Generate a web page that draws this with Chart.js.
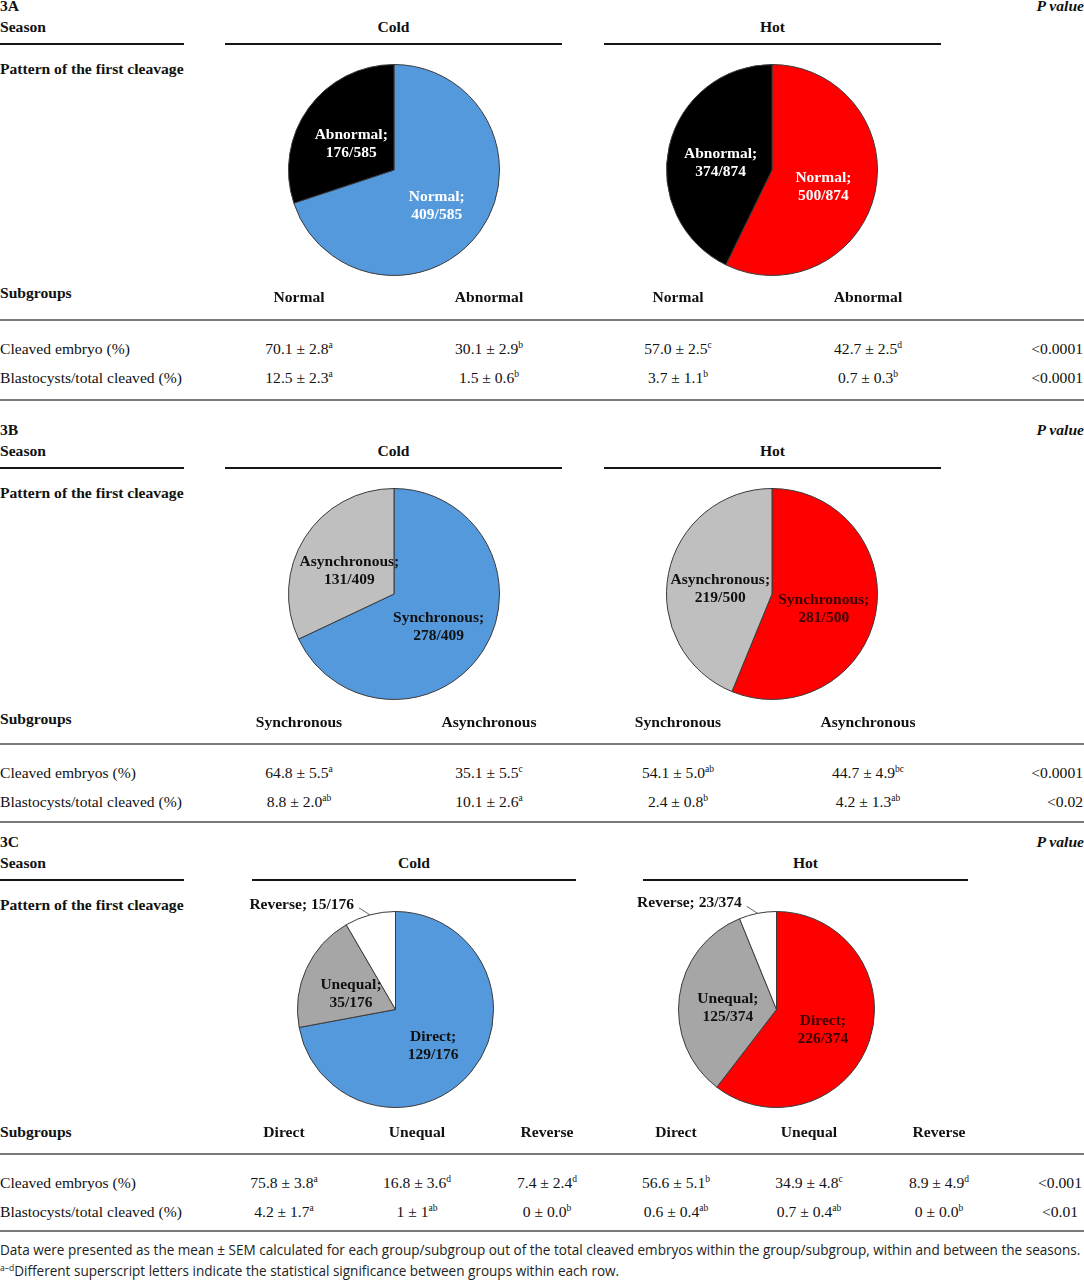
<!DOCTYPE html>
<html><head><meta charset="utf-8">
<script src="https://cdn.jsdelivr.net/npm/chart.js@4.4.0/dist/chart.umd.min.js"></script>
<style>
html,body{margin:0;padding:0;background:#fff;}
#page{position:relative;width:1084px;height:1280px;overflow:hidden;font-family:"Liberation Serif","Times New Roman",serif;color:#111;}
.t{position:absolute;white-space:nowrap;line-height:1;font-size:15.6px;}
.b{font-weight:bold;}
.i{font-style:italic;}
.c{transform:translate(-50%,-50%);}
.l{transform:translate(0,-50%);}
.r{transform:translate(-100%,-50%);}
.t sup{font-size:9.5px;position:relative;top:-6px;vertical-align:baseline;line-height:0;}
.hl{position:absolute;height:2px;background:#151515;}
.gl{position:absolute;left:0;width:1084px;height:1.5px;background:#7a7a7a;}
canvas.pie{position:absolute;}
.foot{position:absolute;left:0;white-space:nowrap;font-family:"Open Sans","Noto Sans",sans-serif;color:#222;line-height:1;transform:translate(0,-50%);font-size:13px;}
.foot sup{font-size:8.5px;position:relative;top:-5px;vertical-align:baseline;line-height:0;}
</style></head><body><div id="page"></div>
<script>
// ---------- data ----------
const seasons = ['Cold', 'Hot'];

const pieCats3A = ['Normal', 'Abnormal'];
const cold3A = [409, 176];
const hot3A = [500, 374];
const denom3A = [585, 874];

const pieCats3B = ['Synchronous', 'Asynchronous'];
const cold3B = [278, 131];
const hot3B = [281, 219];
const denom3B = [409, 500];

const pieCats3C = ['Direct', 'Unequal', 'Reverse'];
const cold3C = [129, 35, 15];
const hot3C = [226, 125, 23];
const denom3C = [176, 374];

const rowLabels3A = ['Cleaved embryo (%)', 'Blastocysts/total cleaved (%)'];
const cleavedMean3A = ['70.1', '30.1', '57.0', '42.7'];
const cleavedSem3A = ['2.8', '2.9', '2.5', '2.5'];
const cleavedSig3A = ['a', 'b', 'c', 'd'];
const blastMean3A = ['12.5', '1.5', '3.7', '0.7'];
const blastSem3A = ['2.3', '0.6', '1.1', '0.3'];
const blastSig3A = ['a', 'b', 'b', 'b'];
const pValues3A = ['<0.0001', '<0.0001'];

const rowLabels3B = ['Cleaved embryos (%)', 'Blastocysts/total cleaved (%)'];
const cleavedMean3B = ['64.8', '35.1', '54.1', '44.7'];
const cleavedSem3B = ['5.5', '5.5', '5.0', '4.9'];
const cleavedSig3B = ['a', 'c', 'ab', 'bc'];
const blastMean3B = ['8.8', '10.1', '2.4', '4.2'];
const blastSem3B = ['2.0', '2.6', '0.8', '1.3'];
const blastSig3B = ['ab', 'a', 'b', 'ab'];
const pValues3B = ['<0.0001', '<0.02'];

const rowLabels3C = ['Cleaved embryos (%)', 'Blastocysts/total cleaved (%)'];
const cleavedMean3C = ['75.8', '16.8', '7.4', '56.6', '34.9', '8.9'];
const cleavedSem3C = ['3.8', '3.6', '2.4', '5.1', '4.8', '4.9'];
const cleavedSig3C = ['a', 'd', 'd', 'b', 'c', 'd'];
const blastMean3C = ['4.2', '1', '0', '0.6', '0.7', '0'];
const blastSem3C = ['1.7', '1', '0.0', '0.4', '0.4', '0.0'];
const blastSig3C = ['a', 'ab', 'b', 'ab', 'ab', 'b'];
const pValues3C = ['<0.001', '<0.01'];

const footnote1 = 'Data were presented as the mean \u00B1 SEM calculated for each group/subgroup out of the total cleaved embryos within the group/subgroup, within and between the seasons.';
const footnote2Sup = 'a\u2013d';
const footnote2 = 'Different superscript letters indicate the statistical significance between groups within each row.';

// ---------- styling ----------
const BLUE = '#5599dd', RED = '#ff0000', BLACK = '#000000', LGRAY = '#bfbfbf', DGRAY = '#a6a6a6', WHITE = '#ffffff';

const page = document.getElementById('page');
function addText(html, x, y, cls) {
  const d = document.createElement('div');
  d.className = 't ' + cls;
  d.style.left = x + 'px';
  d.style.top = y + 'px';
  d.innerHTML = html;
  page.appendChild(d);
  return d;
}
function addLine(cls, x1, x2, y) {
  const d = document.createElement('div');
  d.className = cls;
  if (cls === 'hl') { d.style.left = x1 + 'px'; d.style.width = (x2 - x1) + 'px'; }
  d.style.top = (y - 1) + 'px';
  page.appendChild(d);
}
function esc(s) { return s.replace(/&/g, '&amp;').replace(/</g, '&lt;'); }

const labelPlugin = {
  id: 'sliceLabels',
  afterDatasetsDraw(chart, args, opts) {
    const ctx = chart.ctx;
    const meta = chart.getDatasetMeta(0);
    const ds = chart.data.datasets[0];
    ctx.save();
    ctx.font = 'bold 15.5px "Liberation Serif", "Times New Roman", serif';
    ctx.textBaseline = 'middle';
    meta.data.forEach((arc, i) => {
      const p = arc.getProps(['x', 'y', 'startAngle', 'endAngle', 'outerRadius'], true);
      const mid = (p.startAngle + p.endAngle) / 2;
      const name = chart.data.labels[i] + ';';
      const frac = ds.data[i] + '/' + opts.denom;
      if (opts.outside && opts.outside.indexOf(i) >= 0) {
        const ex = p.x + Math.cos(mid) * p.outerRadius;
        const ey = p.y + Math.sin(mid) * p.outerRadius;
        const sx = ex - 11, sy = ey - 7;
        ctx.strokeStyle = '#555';
        ctx.lineWidth = 0.9;
        ctx.beginPath(); ctx.moveTo(sx, sy); ctx.lineTo(ex, ey); ctx.stroke();
        ctx.fillStyle = '#111';
        ctx.textAlign = 'right';
        ctx.fillText(name + ' ' + frac, sx - 5, sy - 3);
      } else {
        const rr = p.outerRadius * 0.5;
        const cx = p.x + Math.cos(mid) * rr;
        const cy = p.y + Math.sin(mid) * rr + 5;
        ctx.fillStyle = opts.colors[i];
        ctx.textAlign = 'center';
        ctx.fillText(name, cx, cy - 9);
        ctx.fillText(frac, cx, cy + 9);
      }
    });
    ctx.restore();
  }
};

function makePie(cx, cy, size, cats, vals, colors, textColors, denom, outside) {
  const padX = 80, padY = 34;
  const W = size + 2 * padX, H = size + 2 * padY;
  const cv = document.createElement('canvas');
  cv.className = 'pie';
  cv.width = W; cv.height = H;
  cv.style.width = W + 'px'; cv.style.height = H + 'px';
  cv.style.left = (cx - W / 2) + 'px';
  cv.style.top = (cy - H / 2) + 'px';
  page.appendChild(cv);
  new Chart(cv, {
    type: 'pie',
    data: { labels: cats, datasets: [{ data: vals, backgroundColor: colors, borderColor: '#3a3a3a', borderWidth: 1, hoverBorderWidth: 1, offset: 0, hoverOffset: 0 }] },
    options: {
      responsive: false, animation: false, events: [],
      layout: { padding: { left: padX, right: padX, top: padY, bottom: padY } },
      plugins: { legend: { display: false }, tooltip: { enabled: false },
        sliceLabels: { colors: textColors, denom: denom, outside: outside } }
    },
    plugins: [labelPlugin]
  });
}

function valueHtml(mean, sem, sig) {
  return mean + ' \u00B1 ' + sem + '<sup>' + sig + '</sup>';
}

function buildSection(s) {
  addText(s.tag, 0, s.yTag, 'b l');
  addText('P value', 1084, s.yTag, 'b i r');
  addText('Season', 0, s.ySeason, 'b l');
  addText(seasons[0], (s.coldLine[0] + s.coldLine[1]) / 2, s.ySeason, 'b c');
  addText(seasons[1], (s.hotLine[0] + s.hotLine[1]) / 2, s.ySeason, 'b c');
  addLine('hl', 0, 184, s.yLine);
  addLine('hl', s.coldLine[0], s.coldLine[1], s.yLine);
  addLine('hl', s.hotLine[0], s.hotLine[1], s.yLine);
  addText('Pattern of the first cleavage', 0, s.yPattern, 'b l');

  makePie(s.pieX[0], s.pieY, s.pieSize, s.cats, s.cold, s.coldColors, s.coldText, s.denom[0], s.outside);
  makePie(s.pieX[1], s.pieY, s.pieSize, s.cats, s.hot, s.hotColors, s.hotText, s.denom[1], s.outside);

  addText('Subgroups', 0, s.ySub, 'b l');
  const subs = s.cats.concat(s.cats);
  subs.forEach((c, i) => addText(c, s.cols[i], s.ySubLbl, 'b c'));
  addLine('gl', 0, 1084, s.yGl1);

  const rows = [
    [s.rowLabels[0], s.cMean, s.cSem, s.cSig, s.pv[0], s.yRow1],
    [s.rowLabels[1], s.bMean, s.bSem, s.bSig, s.pv[1], s.yRow2]
  ];
  rows.forEach(r => {
    addText(r[0], 0, r[5], 'l');
    r[1].forEach((m, i) => addText(valueHtml(m, r[2][i], r[3][i]), s.cols[i], r[5], 'c'));
    if (s.pAlign === 'r') addText(esc(r[4]), 1083, r[5], 'r');
    else addText(esc(r[4]), s.pX, r[5], 'c');
  });
  addLine('gl', 0, 1084, s.yGl2);
}

buildSection({
  tag: '3A', yTag: 6, ySeason: 27, yLine: 44, yPattern: 69,
  coldLine: [225, 562], hotLine: [604, 941],
  pieX: [393.5, 772], pieY: 169.5, pieSize: 212,
  cats: pieCats3A, cold: cold3A, hot: hot3A, denom: denom3A,
  coldColors: [BLUE, BLACK], hotColors: [RED, BLACK],
  coldText: ['#fff', '#fff'], hotText: ['#fff', '#fff'], outside: [],
  ySub: 293, ySubLbl: 297, yGl1: 320, yRow1: 349, yRow2: 378, yGl2: 400,
  cols: [299, 489, 678, 868], rowLabels: rowLabels3A,
  cMean: cleavedMean3A, cSem: cleavedSem3A, cSig: cleavedSig3A,
  bMean: blastMean3A, bSem: blastSem3A, bSig: blastSig3A, pv: pValues3A, pAlign: 'r'
});

buildSection({
  tag: '3B', yTag: 430, ySeason: 451, yLine: 468, yPattern: 493,
  coldLine: [225, 562], hotLine: [604, 941],
  pieX: [393.5, 772], pieY: 593.5, pieSize: 212,
  cats: pieCats3B, cold: cold3B, hot: hot3B, denom: denom3B,
  coldColors: [BLUE, LGRAY], hotColors: [RED, LGRAY],
  coldText: ['#111', '#111'], hotText: ['#3a0000', '#111'], outside: [],
  ySub: 719, ySubLbl: 722, yGl1: 744, yRow1: 773, yRow2: 802, yGl2: 822,
  cols: [299, 489, 678, 868], rowLabels: rowLabels3B,
  cMean: cleavedMean3B, cSem: cleavedSem3B, cSig: cleavedSig3B,
  bMean: blastMean3B, bSem: blastSem3B, bSig: blastSig3B, pv: pValues3B, pAlign: 'r'
});

buildSection({
  tag: '3C', yTag: 842, ySeason: 863, yLine: 880, yPattern: 905,
  coldLine: [252, 576], hotLine: [643, 968],
  pieX: [395, 776], pieY: 1009.5, pieSize: 197,
  cats: pieCats3C, cold: cold3C, hot: hot3C, denom: denom3C,
  coldColors: [BLUE, DGRAY, WHITE], hotColors: [RED, DGRAY, WHITE],
  coldText: ['#111', '#111', '#111'], hotText: ['#3a0000', '#111', '#111'], outside: [2],
  ySub: 1132, ySubLbl: 1132, yGl1: 1154, yRow1: 1183, yRow2: 1212, yGl2: 1231,
  cols: [284, 417, 547, 676, 809, 939], rowLabels: rowLabels3C,
  cMean: cleavedMean3C, cSem: cleavedSem3C, cSig: cleavedSig3C,
  bMean: blastMean3C, bSem: blastSem3C, bSig: blastSig3C, pv: pValues3C, pAlign: 'c', pX: 1060
});

// footnotes
const f1 = document.createElement('div');
f1.className = 'foot'; f1.style.top = '1251px'; f1.textContent = footnote1;
page.appendChild(f1);
const f2 = document.createElement('div');
f2.className = 'foot'; f2.style.top = '1272px';
f2.innerHTML = '<sup>' + footnote2Sup + '</sup>' + footnote2;
page.appendChild(f2);
const w1 = f1.getBoundingClientRect().width;
const fs = 13 * 1082 / w1;
f1.style.fontSize = fs + 'px';
f2.style.fontSize = fs + 'px';
</script>
</body></html>
